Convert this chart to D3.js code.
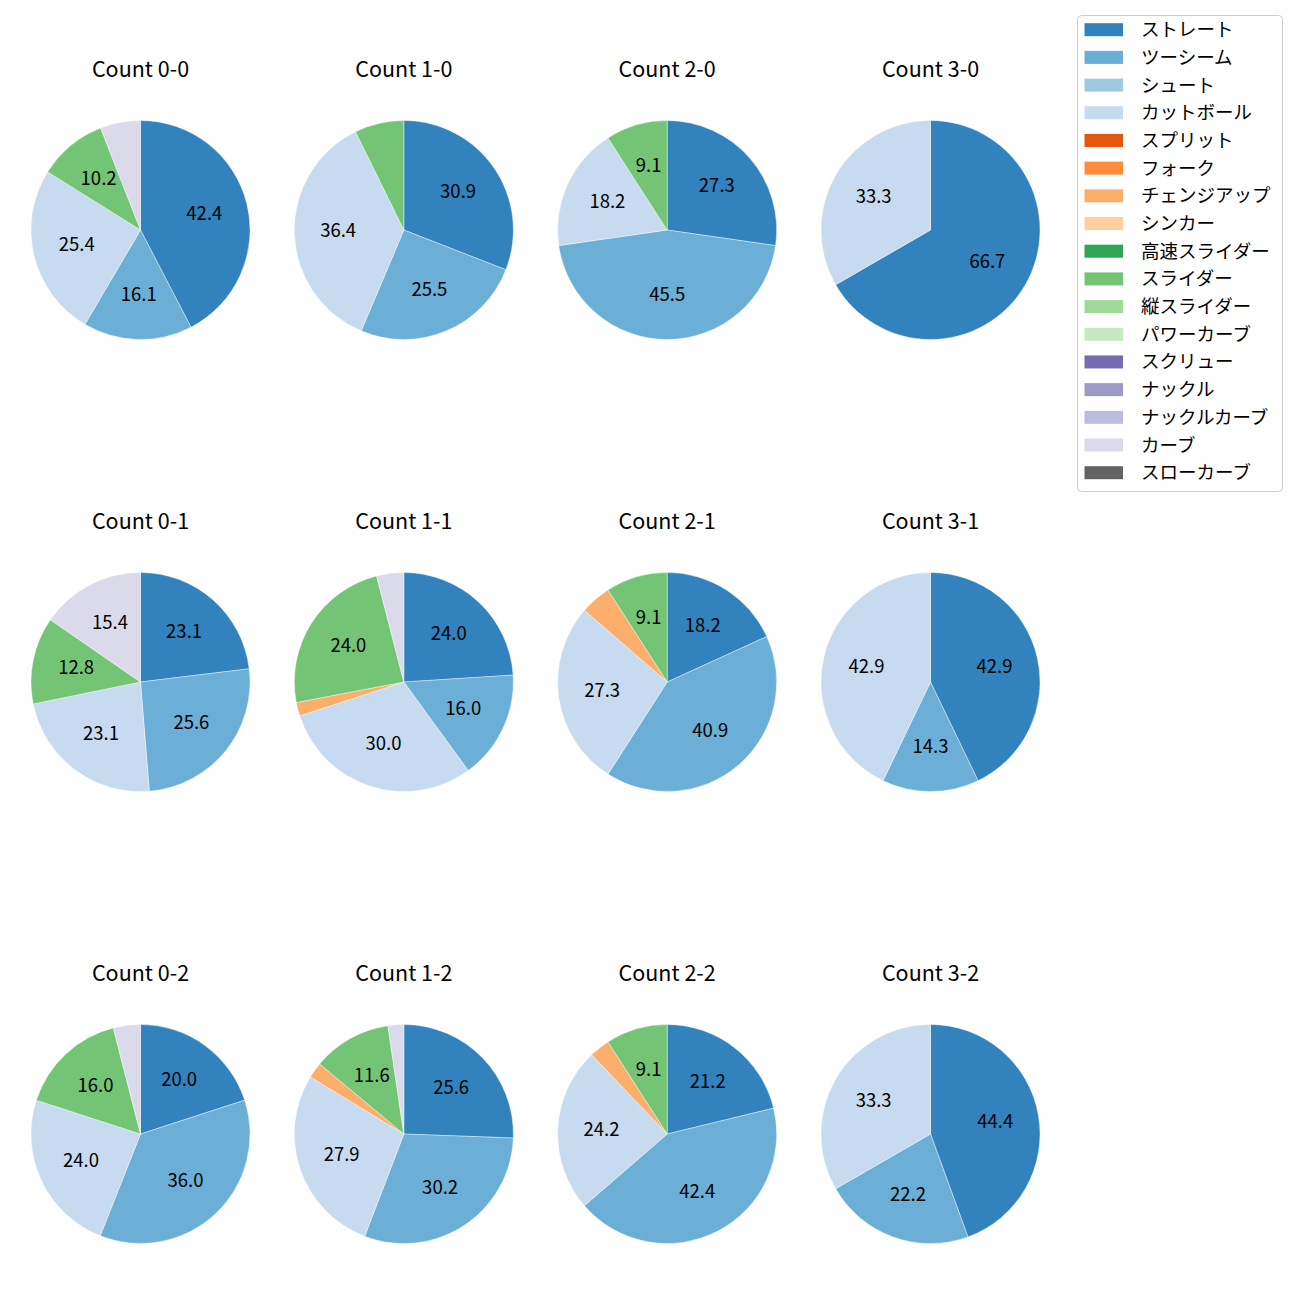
<!DOCTYPE html>
<html>
<head>
<meta charset="utf-8">
<script src="https://cdn.jsdelivr.net/npm/d3@7"></script>
<style>
  html, body { margin: 0; padding: 0; background: #ffffff; }
  svg { display: block; }
  text { font-family: "Noto Sans CJK JP", "Noto Sans", sans-serif; fill: #000; }
</style>
</head>
<body>
<svg id="chart" width="1300" height="1300"></svg>
<script>
// ---- data ----
const pitchTypes = ["ストレート","ツーシーム","シュート","カットボール","スプリット","フォーク","チェンジアップ","シンカー","高速スライダー","スライダー","縦スライダー","パワーカーブ","スクリュー","ナックル","ナックルカーブ","カーブ","スローカーブ"];
const pitchColors = ["#3182bd","#6baed6","#9ecae1","#c6dbef","#e6550d","#fd8d3c","#fdae6b","#fdd0a2","#31a354","#74c476","#a1d99b","#c7e9c0","#756bb1","#9e9ac8","#bcbddc","#dadaeb","#636363"];

const countLabels = ["0-0","1-0","2-0","3-0","0-1","1-1","2-1","3-1","0-2","1-2","2-2","3-2"];
// pitches per count (same order as countLabels)
const straight   = [50,17,3,2, 9,12,4,3, 5,11,7,4];
const twoSeam    = [19,14,5,0,10, 8,9,1, 9,13,14,2];
const cutter     = [30,20,2,1, 9,15,6,3, 6,12,8,3];
const changeup   = [ 0, 0,0,0, 0, 1,1,0, 0, 1,1,0];
const slider     = [12, 4,1,0, 5,12,2,0, 4, 5,3,0];
const curve      = [ 7, 0,0,0, 6, 2,0,0, 1, 1,0,0];

const seriesByType = {
  "ストレート": straight, "ツーシーム": twoSeam, "カットボール": cutter,
  "チェンジアップ": changeup, "スライダー": slider, "カーブ": curve
};

// ---- layout ----
const svg = d3.select("#chart");
const colScale = d3.scalePoint().domain([0,1,2,3]).range([140.5, 930.5]);
const rowScale = d3.scalePoint().domain([0,1,2]).range([230, 1134]);
const radius = 109.5;
const color = d3.scaleOrdinal().domain(pitchTypes).range(pitchColors);

const pie = d3.pie().sort(null).value(d => d.value).startAngle(0).endAngle(2 * Math.PI);
const arc = d3.arc().innerRadius(0).outerRadius(radius);
const labelArc = d3.arc().innerRadius(radius * 0.6).outerRadius(radius * 0.6);

countLabels.forEach((c, i) => {
  const col = i % 4, row = Math.floor(i / 4);
  const cx = colScale(col), cy = rowScale(row);
  const data = pitchTypes.map(p => ({ type: p, value: seriesByType[p] ? seriesByType[p][i] : 0 }))
                         .filter(d => d.value > 0);
  const total = d3.sum(data, d => d.value);
  const g = svg.append("g").attr("transform", `translate(${cx},${cy})`);
  const arcs = pie(data);
  g.selectAll("path").data(arcs).join("path")
    .attr("d", arc)
    .attr("fill", d => color(d.data.type))
    .attr("stroke", "#ffffff")
    .attr("stroke-width", 0.4);
  g.selectAll("text.pct").data(arcs.filter(d => d.data.value / total * 100 >= 8)).join("text")
    .attr("class", "pct")
    .attr("transform", d => { const p = labelArc.centroid(d); return `translate(${p[0]},${p[1] - 2.5})`; })
    .attr("text-anchor", "middle")
    .attr("dominant-baseline", "central")
    .style("font-size", "18.5px")
    .text(d => (d.data.value / total * 100).toFixed(1));
  svg.append("text")
    .attr("x", cx).attr("y", cy - 163)
    .attr("text-anchor", "middle")
    .attr("dominant-baseline", "central")
    .style("font-size", "21.5px")
    .text("Count " + c);
});

// ---- legend ----
const legend = svg.append("g");
legend.append("rect")
  .attr("x", 1077.5).attr("y", 15.5).attr("width", 205).attr("height", 476)
  .attr("rx", 4).attr("fill", "#ffffff").attr("fill-opacity", 0.8)
  .attr("stroke", "#cccccc").attr("stroke-width", 1);
const legY = d3.scalePoint().domain(pitchTypes).range([29.7, 472.7]);
pitchTypes.forEach(p => {
  legend.append("rect")
    .attr("x", 1084.5).attr("y", legY(p) - 6.5).attr("width", 38.5).attr("height", 13)
    .attr("fill", color(p));
  legend.append("text")
    .attr("x", 1141).attr("y", legY(p) - 1.5)
    .attr("dominant-baseline", "central")
    .style("font-size", "18.5px")
    .text(p);
});
</script>
</body>
</html>
